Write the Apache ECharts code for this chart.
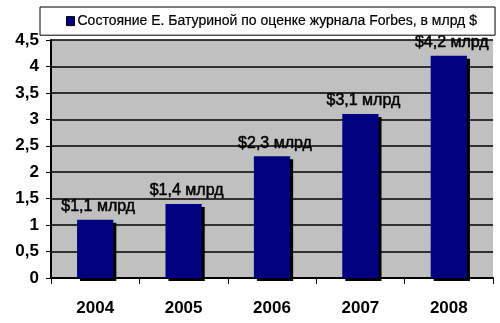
<!DOCTYPE html>
<html>
<head>
<meta charset="utf-8">
<script src="https://cdn.jsdelivr.net/npm/echarts@6/dist/echarts.min.js"></script>
<style>
  html, body { margin: 0; padding: 0; background: #fff; }
  #chart { width: 500px; height: 323px; }
</style>
</head>
<body>
<div id="chart"></div>
<script>
// Годы и состояние (млрд $)
const years = ['2004', '2005', '2006', '2007', '2008'];
const wealth = [1.1, 1.4, 2.3, 3.1, 4.2];
const seriesName = 'Состояние Е. Батуриной по оценке журнала Forbes, в млрд $';

const FONT = '"Liberation Sans", Arial, sans-serif';
const toComma = v => String(v).replace('.', ',');

const chart = echarts.init(document.getElementById('chart'), null, { renderer: 'canvas' });
chart.setOption({
  animation: false,
  backgroundColor: '#ffffff',
  textStyle: { fontFamily: FONT },
  legend: {
    left: 40,
    top: 7,
    padding: [7, 18, 7, 26],
    backgroundColor: '#ffffff',
    borderColor: '#000000',
    borderWidth: 1,
    itemWidth: 8,
    itemHeight: 9,
    itemGap: 3,
    icon: 'rect',
    itemStyle: { borderColor: '#000', borderWidth: 1 },
    textStyle: {
      fontFamily: FONT, fontSize: 14, color: '#000', padding: [0, 0, 0, -2],
      textBorderColor: '#000', textBorderWidth: 0.2
    },
    data: [seriesName]
  },
  grid: {
    left: 51, right: 7, top: 40, bottom: 45,
    show: true, backgroundColor: '#c0c0c0', borderWidth: 0
  },
  xAxis: {
    type: 'category',
    data: years,
    axisLine: { lineStyle: { color: '#000', width: 2 } },
    axisTick: { show: true, length: 6, lineStyle: { color: '#000', width: 1 } },
    axisLabel: { color: '#000', fontFamily: FONT, fontSize: 17, fontWeight: 'bold', margin: 22 }
  },
  yAxis: {
    type: 'value',
    min: 0, max: 4.5, interval: 0.5,
    axisLine: { show: true, lineStyle: { color: '#000', width: 2 } },
    axisTick: { show: true, length: 5, lineStyle: { color: '#000', width: 1 } },
    splitLine: { lineStyle: { color: '#000', width: 1.5 } },
    axisLabel: {
      color: '#000', fontFamily: FONT, fontSize: 17, fontWeight: 'bold', margin: 12,
      formatter: v => toComma(v)
    }
  },
  series: [{
    name: seriesName,
    type: 'bar',
    data: wealth,
    barWidth: '41%',
    itemStyle: {
      color: '#000080',
      shadowColor: '#000',
      shadowOffsetX: 3,
      shadowOffsetY: 3,
      shadowBlur: 0
    },
    label: {
      show: true,
      position: 'top',
      distance: 5,
      offset: [3, 0],
      color: '#000',
      fontFamily: FONT,
      fontSize: 16,
      textBorderColor: '#000',
      textBorderWidth: 0.5,
      formatter: p => '$' + toComma(p.value) + ' млрд'
    }
  }]
});
</script>
</body>
</html>
